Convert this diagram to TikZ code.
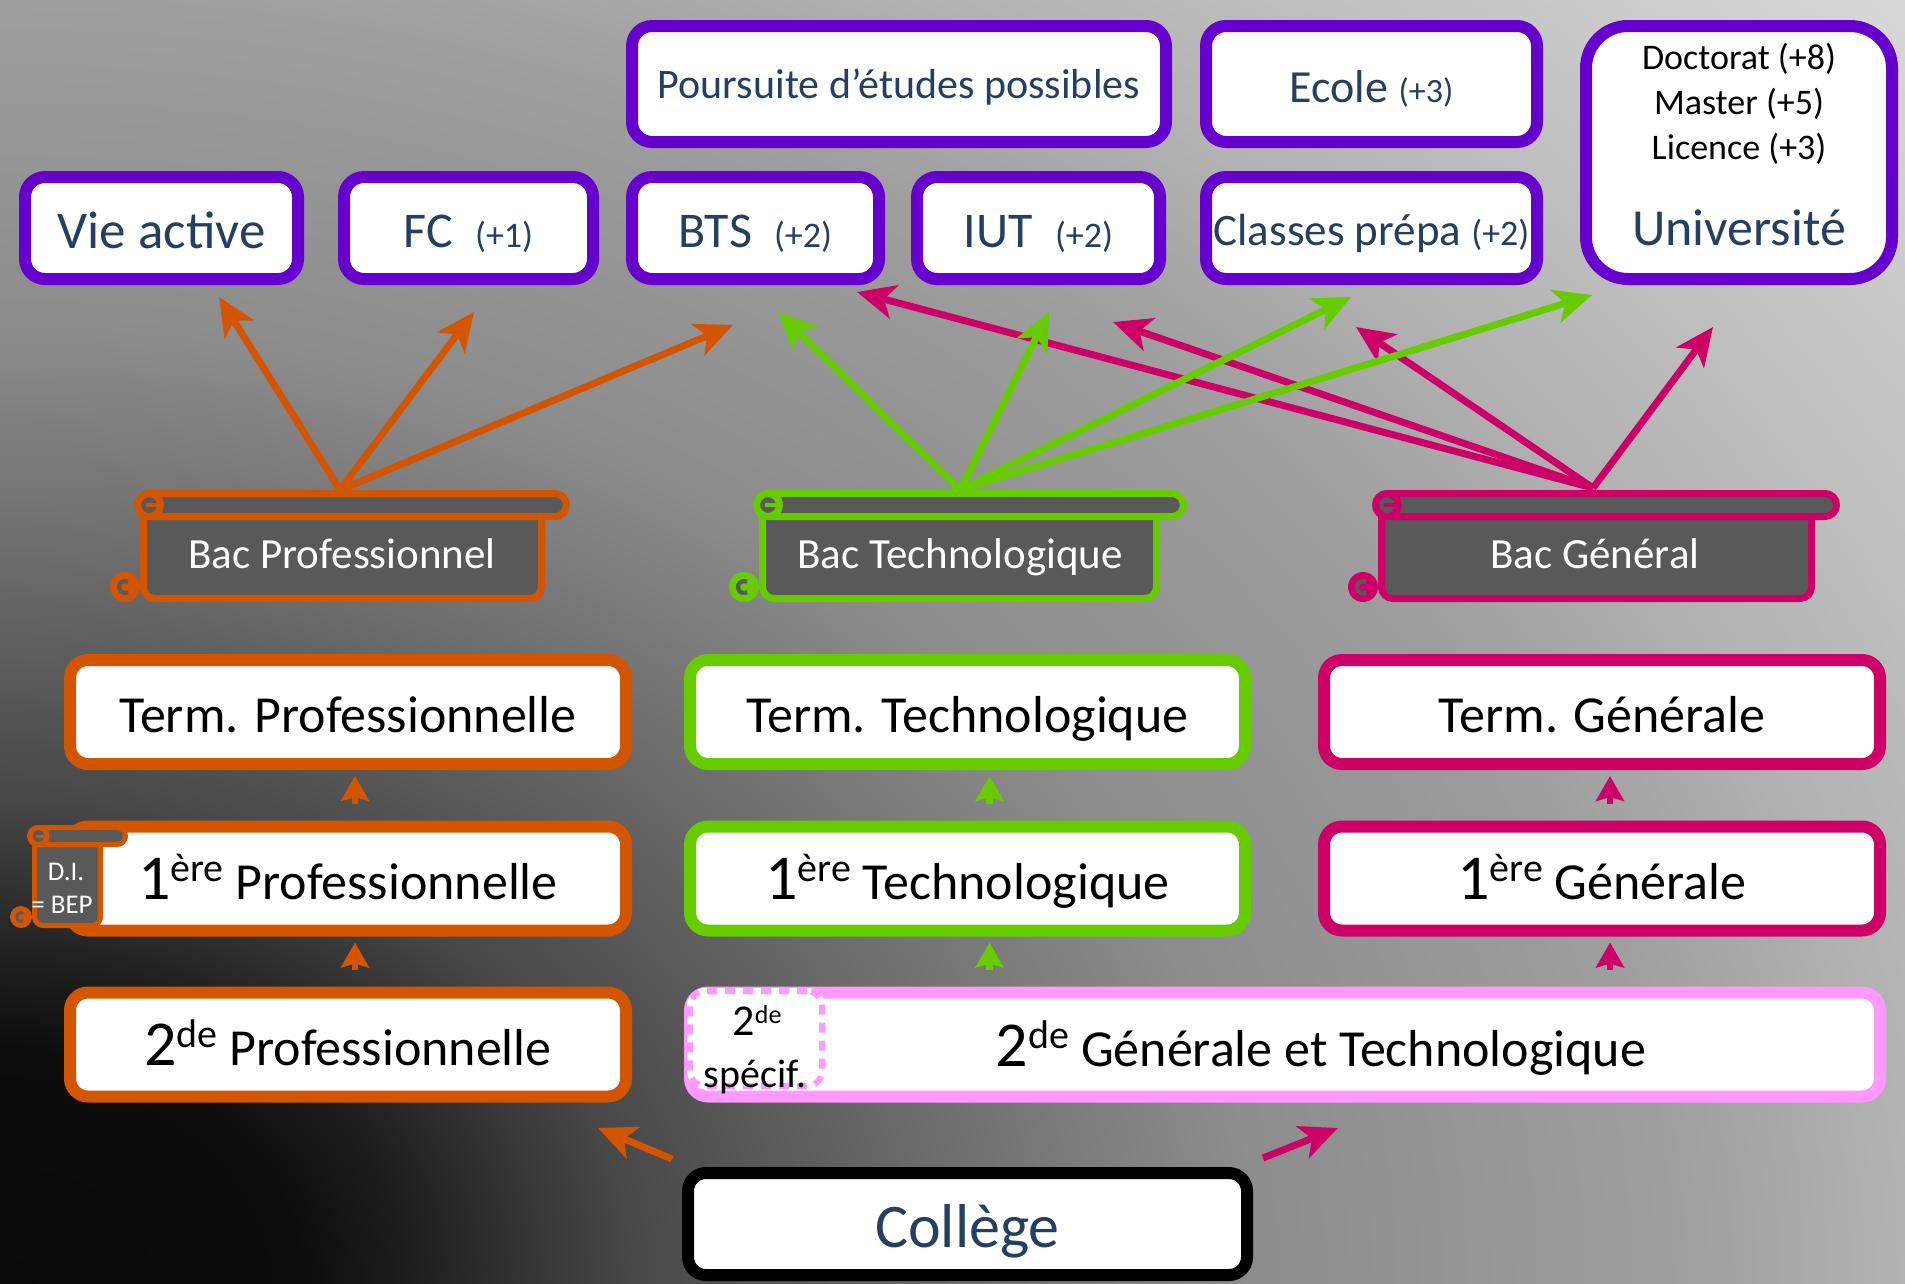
\documentclass[tikz,border=0pt]{standalone}
\usepackage{fontspec}
\setmainfont{Carlito}
\usetikzlibrary{arrows.meta}
\definecolor{vio}{HTML}{6600CC}
\definecolor{ora}{HTML}{D45500}
\definecolor{gre}{HTML}{66CC00}
\definecolor{mag}{HTML}{CC0066}
\definecolor{pnk}{HTML}{FF99FF}
\definecolor{scr}{HTML}{595959}
\definecolor{dblue}{HTML}{243F60}
\newcommand\fsz[2]{\fontsize{#1}{#2}\selectfont}
% number with raised suffix: #1 number, #2 suffix, #3 size, #4 suffix size, #5 raise
\newcommand\ordn[5]{{\fsz{#3}{#3}#1}\raisebox{#5pt}{\fsz{#4}{#4}#2}}
\newcommand\ordbig[2]{\ordn{#1}{#2}{64}{40}{18}}
\pgfdeclareradialshading{bgshade}{\pgfpoint{0bp}{0bp}}{%
 color(0bp)=(black!96); color(2.93bp)=(black!95); color(3.91bp)=(black!89);
 color(6.15bp)=(black!72); color(9.77bp)=(black!55); color(12.2bp)=(black!45);
 color(16.3bp)=(black!38); color(18.65bp)=(black!30); color(24.8bp)=(black!15);
 color(25bp)=(black!15); color(50bp)=(black!15)}
\newcommand\scrollshape[8]{% L R T B color lw h ext
 \pgfmathsetmacro\sclw{#6/2}%
 \pgfmathsetmacro\schh{#7/2}%
 \pgfmathsetmacro\scrr{(#7-#6)/2}%
 \pgfmathsetmacro\sclwb{0.6*#6}%
 \begin{scope}[line width=#6pt, draw=#5, fill=scr, line join=round]
  \filldraw[rounded corners=\scrr pt] (#1+\sclw,#3+\schh) -- (#1+\sclw,#4-\sclw) -- (#2-\sclw,#4-\sclw) -- (#2-\sclw,#3+\schh);
  \filldraw[rounded corners=\scrr pt] (#1-5+\sclw,#3+\sclw) rectangle (#2+#8-\sclw,#3+#7-\sclw);
  \filldraw (#1+\schh*0.6,#3+\schh) circle (\schh-\sclw);
  \draw[line width=\sclwb pt] (#1+\schh*0.4,#3+\schh) -- ++(\schh*0.7,0);
  \fill[#5] (#1-\schh,#4-\schh) circle (\schh);
  \draw[scr, line width=\sclwb pt] (#1-\schh,#4-\schh) ++(60:0.4*\schh) arc[start angle=60,end angle=300,radius=0.4*\schh];
 \end{scope}}
\begin{document}
\begin{tikzpicture}[x=1pt, y=-1pt,
 tbox/.style={draw=vio, line width=12pt, fill=white, rounded corners=20pt, text=dblue, inner sep=0pt, text height=39pt, text depth=0pt},
 mbox/.style={line width=12pt, fill=white, rounded corners=18pt, inner sep=0pt, text=black, font=\fsz{52}{60}, text height=41pt, text depth=0pt},
 arr/.style={line width=7pt, -{Stealth[length=38pt, width=34pt, inset=10pt]}},
 sarr/.style={line width=6.5pt, -{Stealth[length=25pt, width=28pt, inset=4pt]}},
 bactext/.style={text=white, font=\fsz{43}{50}, inner sep=0pt, anchor=base},
 utext/.style={text=black, font=\fsz{36}{40}, inner sep=0pt, anchor=base}]
\useasboundingbox (0,0) rectangle (1905,1283);
\begin{scope}
 \clip (0,0) rectangle (1905,1283);
 \shade[shading=bgshade] (0,1283) ellipse [x radius=2560, y radius=1969];
\end{scope}

% top boxes
\node[tbox, text height=29pt, minimum width=534pt, minimum height=116pt] (pours) at (899,84) {\fsz{42}{50}Poursuite d’études possibles};
\node[tbox, text height=37pt, minimum width=331pt, minimum height=116pt] (ecole) at (1371.5,84) {\fsz{46}{54}Ecole {\fsz{34}{40}(+3)}};
\node[tbox, rounded corners=42pt, minimum width=306pt, minimum height=253pt] (univ) at (1739,152.5) {};
\node[utext] (doct) at (1739,69) {Doctorat (+8)};
\node[utext] (mast) at (1739,114) {Master (+5)};
\node[utext] (lic) at (1739,159) {Licence (+3)};
\node[utext, text=dblue, font=\fsz{52}{60}] (univt) at (1739,245) {Université};
\node[tbox, text height=40pt, minimum width=273pt, minimum height=102pt] (vie) at (161.5,228) {\fsz{53}{60}Vie active};
\node[tbox, minimum width=249pt, minimum height=102pt] (fc) at (468.5,228) {\fsz{50}{60}FC\hspace{22pt}{\fsz{36}{40}(+1)}};
\node[tbox, minimum width=247pt, minimum height=102pt] (bts) at (755.5,228) {\fsz{50}{60}BTS\hspace{22pt}{\fsz{36}{40}(+2)}};
\node[tbox, minimum width=243pt, minimum height=102pt] (iut) at (1038.5,228) {\fsz{50}{60}IUT\hspace{22pt}{\fsz{36}{40}(+2)}};
\node[tbox, text height=35pt, minimum width=331pt, minimum height=102pt] (prepa) at (1371.5,228) {\fsz{45}{54}Classes prépa {\fsz{36}{40}(+2)}};

% arrow coordinates
\coordinate (bpT) at (340,490);
\coordinate (btT) at (960,490);
\coordinate (bgT) at (1593,488);
\coordinate (o1) at (219,297);
\coordinate (o2) at (474,312);
\coordinate (o3) at (733,325);
\coordinate (g1) at (778,312);
\coordinate (g2) at (1049,312);
\coordinate (g3) at (1351,297);
\coordinate (g4) at (1592,295);
\coordinate (m1) at (857,292);
\coordinate (m2) at (1113,322);
\coordinate (m3) at (1356,327);
\coordinate (m4) at (1713,327);
\draw[arr, ora] (bpT) -- (o1);
\draw[arr, ora] (bpT) -- (o2);
\draw[arr, ora] (bpT) -- (o3);
\draw[arr, mag] (bgT) -- (m1);
\draw[arr, mag] (bgT) -- (m2);
\draw[arr, mag] (bgT) -- (m3);
\draw[arr, mag] (bgT) -- (m4);
\draw[arr, gre] (btT) -- (g1);
\draw[arr, gre] (btT) -- (g2);
\draw[arr, gre] (btT) -- (g3);
\draw[arr, gre] (btT) -- (g4);

% bac scrolls
\scrollshape{140}{545}{490}{602}{ora}{7}{30}{25}
\scrollshape{759}{1160}{490}{602}{gre}{7}{30}{27}
\scrollshape{1378}{1815}{490}{602}{mag}{7}{30}{25}
\node[bactext] (bacpro) at (342,568) {Bac Professionnel};
\node[bactext] (bactec) at (960,568) {Bac Technologique};
\node[bactext] (bacgen) at (1595,568) {Bac Général};

% middle boxes
\node[mbox, draw=ora, minimum width=556pt, minimum height=104pt] (proT) at (348,712) {Term. Professionnelle};
\node[mbox, draw=ora, minimum width=556pt, minimum height=104pt] (pro1) at (348,878.5) {\ordbig{1}{ère} Professionnelle};
\node[mbox, draw=ora, minimum width=556pt, minimum height=104pt] (pro2) at (348,1044.5) {\ordbig{2}{de} Professionnelle};
\node[mbox, draw=gre, minimum width=555pt, minimum height=104pt] (tecT) at (967.5,712) {Term. Technologique};
\node[mbox, draw=gre, minimum width=555pt, minimum height=104pt] (tec1) at (967.5,878.5) {\ordbig{1}{ère} Technologique};
\node[mbox, draw=mag, minimum width=556pt, minimum height=104pt] (genT) at (1602,712) {Term. Générale};
\node[mbox, draw=mag, minimum width=556pt, minimum height=104pt] (gen1) at (1602,878.5) {\ordbig{1}{ère} Générale};
\node[mbox, draw=pnk, minimum width=1190pt, minimum height=104pt] (gt2) at (1285,1044.5) {};
\node[text=black, font=\fsz{52}{60}, inner sep=0pt, anchor=base] (gt2t) at (1321,1066) {\ordbig{2}{de} Générale et Technologique};
\node[draw=pnk, line width=6pt, dash pattern=on 10pt off 8pt, rounded corners=15pt,
 preaction={draw=white, solid, line width=6pt, fill=white},
 minimum width=132pt, minimum height=95pt, inner sep=0pt] (spec) at (756,1038.5) {};
\node[text=black, inner sep=0pt, anchor=base] (spec2) at (757,1035) {\ordn{2}{de}{44}{26}{12}};
\node[text=black, font=\fsz{40}{48}, inner sep=0pt, anchor=base] (specs) at (755,1087) {spécif.};
\node[mbox, draw=black, minimum width=559pt, minimum height=102pt] (col) at (967.5,1224) {};
\node[text=dblue, font=\fsz{62}{70}, inner sep=0pt, anchor=base] (colt) at (967.5,1247) {Collège};

% D.I. scroll
\scrollshape{32}{103}{825}{928}{ora}{5}{22}{25}
\node[text=white, font=\fsz{27}{32}, inner sep=0pt] (di) at (66,872) {D.I.};
\node[text=white, font=\fsz{27}{32}, inner sep=0pt] (bep) at (62,905) {= BEP};

% short arrows
\draw[sarr, ora] ([xshift=7pt,yshift=17pt]pro1.north) -- ([xshift=7pt,yshift=-6pt]proT.south);
\draw[sarr, ora] ([xshift=7pt,yshift=17pt]pro2.north) -- ([xshift=7pt,yshift=-6pt]pro1.south);
\draw[sarr, gre] ([xshift=22pt,yshift=17pt]tec1.north) -- ([xshift=22pt,yshift=-6pt]tecT.south);
\draw[sarr, gre] ([xshift=22pt,yshift=17pt]gt2.north -| tec1.north) -- ([xshift=22pt,yshift=-6pt]tec1.south);
\draw[sarr, mag] ([xshift=8pt,yshift=17pt]gen1.north) -- ([xshift=8pt,yshift=-6pt]genT.south);
\draw[sarr, mag] ([xshift=8pt,yshift=17pt]gt2.north -| gen1.north) -- ([xshift=8pt,yshift=-6pt]gen1.south);

% college arrows
\coordinate (cO) at (672,1159);
\coordinate (cOt) at (598,1128);
\coordinate (cM) at (1263,1158);
\coordinate (cMt) at (1338,1128);
\draw[arr, ora] (cO) -- (cOt);
\draw[arr, mag] (cM) -- (cMt);
\end{tikzpicture}
\end{document}
